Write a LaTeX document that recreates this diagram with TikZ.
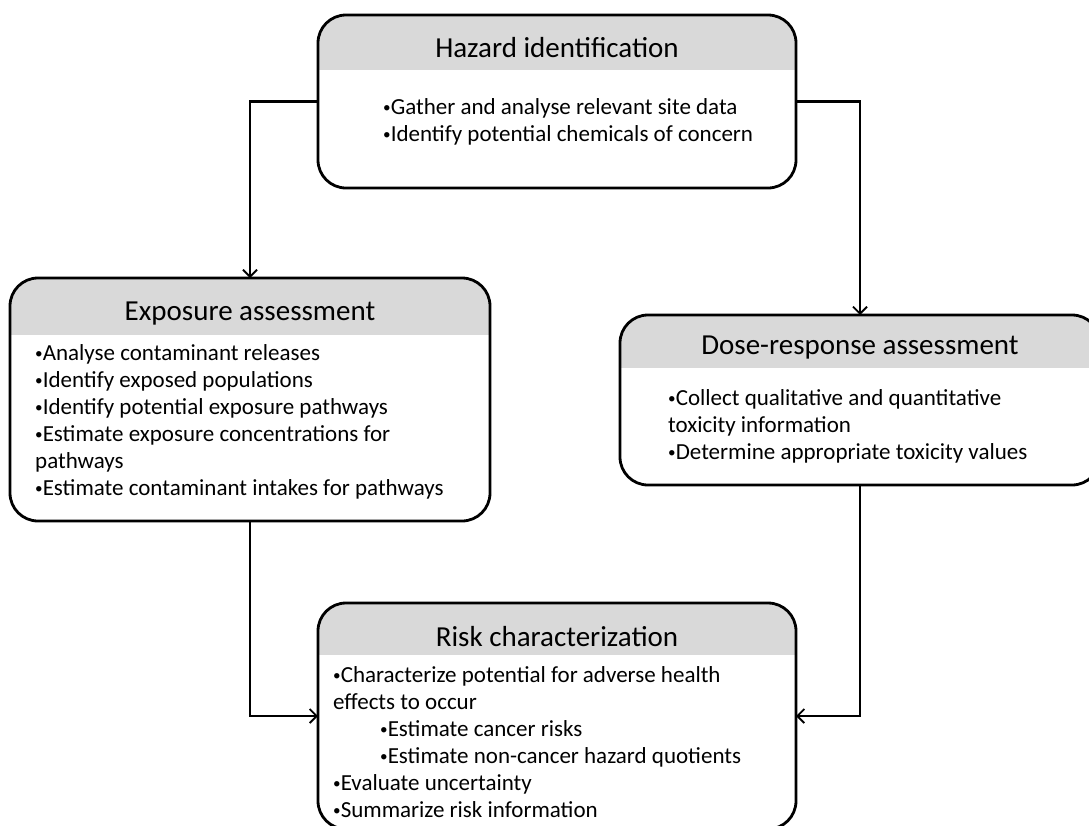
\documentclass[tikz,border=0pt]{standalone}
\usepackage{fontspec}
\usepackage{graphicx}
\setmainfont{Carlito}
\usetikzlibrary{arrows.meta}
\definecolor{headgrey}{HTML}{D9D9D9}
% small bullet as used in the lists
\newcommand\bul{\raisebox{0.12ex}{\scalebox{0.66}{•}}}
\tikzset{
  stagebox/.style={draw=black, line width=2.8pt, rounded corners=28pt, fill=white,
    anchor=north west, inner sep=0pt, outer sep=0pt},
  header/.style={path picture={\fill[headgrey, sharp corners] (path picture bounding box.north west)
    rectangle ([yshift=-#1]path picture bounding box.north east);}},
  title/.style={font=\fontsize{29}{33}\selectfont, anchor=center, inner sep=0pt},
  body/.style={font=\fontsize{23}{27}\selectfont, align=left, anchor=north west, inner sep=0pt},
  conn/.style={line width=2.2pt, -{Straight Barb[length=7pt,width=14pt,line width=1.8pt]}},
}
\begin{document}
\begin{tikzpicture}[x=1pt,y=-1pt]
\useasboundingbox (0,0) rectangle (1089,825);
\clip (0,0) rectangle (1089,825);

% stage boxes
\node[stagebox, header=55pt, minimum width=478pt, minimum height=173pt] (haz) at (318,15) {};
\node[stagebox, header=57pt, minimum width=480pt, minimum height=243pt] (exp) at (10,278) {};
\node[stagebox, header=53pt, minimum width=480pt, minimum height=170pt] (dose) at (620,315) {};
\node[stagebox, header=52pt, minimum width=478pt, minimum height=226pt] (risk) at (318,603) {};

% titles
\node[title] (hazt) at (557,48) {Hazard identification};
\node[title] (expt) at (250,314) {Exposure assessment};
\node[title] (doset) at (860,348) {Dose-response assessment};
\node[title] (riskt) at (557,637) {Risk characterization};

% bullet lists
\node[body] (hazb) at (383,98) {\bul Gather and analyse relevant site data\\\bul Identify potential chemicals of concern};
\node[body] (expb) at (35,344) {\bul Analyse contaminant releases\\\bul Identify exposed populations\\\bul Identify potential exposure pathways\\\bul Estimate exposure concentrations for\\pathways\\\bul Estimate contaminant intakes for pathways};
\node[body] (doseb) at (668,389) {\bul Collect qualitative and quantitative\\toxicity information\\\bul Determine appropriate toxicity values};
\node[body] (riskb) at (333,666) {\bul Characterize potential for adverse health\\effects to occur\\\hspace{47pt}\bul Estimate cancer risks\\\hspace{47pt}\bul Estimate non-cancer hazard quotients\\\bul Evaluate uncertainty\\\bul Summarize risk information};

% connectors
\draw[conn] (haz.west) -| (exp.north);
\draw[conn] (haz.east) -| (dose.north);
\draw[conn] (exp.south) |- (risk.west);
\draw[conn] (dose.south) |- (risk.east);
\end{tikzpicture}
\end{document}
